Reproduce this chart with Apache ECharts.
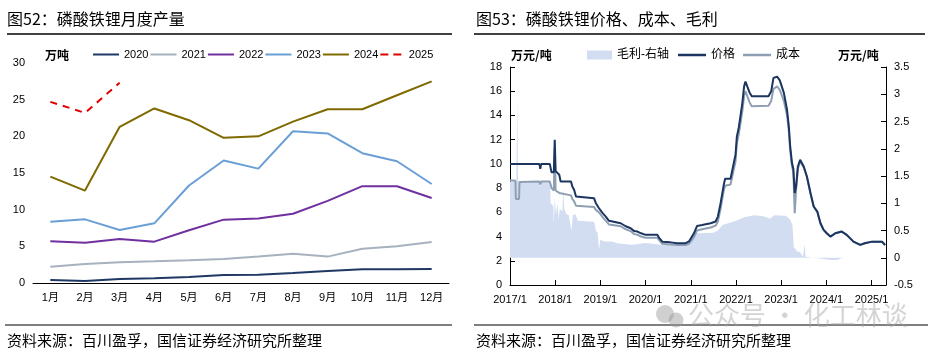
<!DOCTYPE html>
<html>
<head>
<meta charset="utf-8">
<script src="https://cdn.jsdelivr.net/npm/echarts@6/dist/echarts.min.js"></script>
<style>
  html, body { margin: 0; padding: 0; background: #fff; }
  #main { width: 934px; height: 351px; }
</style>
</head>
<body>
<div id="main"></div>
<script>
// 图52 月度产量（万吨）
var months = ['1月', '2月', '3月', '4月', '5月', '6月', '7月', '8月', '9月', '10月', '11月', '12月'];
var y2020 = [0.41, 0.27, 0.55, 0.64, 0.82, 1.09, 1.14, 1.36, 1.64, 1.86, 1.86, 1.9];
var y2021 = [2.23, 2.6, 2.82, 2.95, 3.1, 3.27, 3.6, 4.0, 3.6, 4.68, 5.0, 5.6];
var y2022 = [5.68, 5.5, 6.0, 5.64, 7.2, 8.64, 8.8, 9.45, 11.2, 13.2, 13.2, 11.6];
var y2023 = [8.36, 8.68, 7.23, 8.14, 13.3, 16.7, 15.6, 20.7, 20.4, 17.7, 16.6, 13.5];
var y2024 = [14.5, 12.6, 21.3, 23.8, 22.2, 19.8, 20.0, 22.0, 23.7, 23.7, 25.6, 27.5];
var y2025 = [24.7, 23.2, 27.3];

// 图53 价格、成本（万元/吨），时间用小数年表示
var priceYear = [
  2017.00, 2017.12, 2017.13, 2017.20, 2017.21, 2017.65, 2017.67, 2017.69, 2017.88, 2017.92,
  2017.97, 2017.99, 2018.01, 2018.05, 2018.09, 2018.12, 2018.35, 2018.38, 2018.42, 2018.46,
  2018.49, 2018.86, 2018.90, 2018.97, 2019.05, 2019.12, 2019.19, 2019.45, 2019.56, 2019.67,
  2019.75, 2019.82, 2019.90, 2020.00, 2020.26, 2020.30, 2020.37, 2020.55, 2020.70, 2020.89,
  2020.96, 2021.07, 2021.14, 2021.25, 2021.44, 2021.55, 2021.60, 2021.66, 2021.73, 2021.76,
  2021.88, 2021.92, 2021.99, 2022.02, 2022.06, 2022.14, 2022.18, 2022.21, 2022.25, 2022.30,
  2022.35, 2022.72, 2022.78, 2022.83, 2022.91, 2022.97, 2023.06, 2023.13, 2023.17, 2023.20,
  2023.24, 2023.27, 2023.30, 2023.33, 2023.37, 2023.42, 2023.50, 2023.57, 2023.65, 2023.72,
  2023.80, 2023.87, 2023.94, 2024.01, 2024.09, 2024.20, 2024.34, 2024.45, 2024.60, 2024.75,
  2024.85, 2025.01, 2025.23, 2025.30
];
var price = [
  10.0, 10.0, 10.0, 10.0, 10.0, 10.0, 9.6, 10.0, 10.0, 9.3,
  9.3, 12.0, 9.4, 9.4, 9.1, 8.55, 8.55, 8.13, 7.85, 7.3,
  7.17, 7.17, 6.75, 6.34, 5.93, 5.65, 5.3, 5.1, 4.85, 4.69,
  4.45, 4.41, 4.27, 4.14, 4.14, 3.9, 3.58, 3.52, 3.45, 3.45,
  3.6, 4.27, 4.88, 4.96, 5.1, 5.24, 5.65, 6.75, 8.27, 8.77,
  8.77, 9.5, 10.75, 12.26, 12.94, 15.0, 16.4, 16.8, 16.8, 15.9,
  15.58, 15.58, 16.0, 17.1, 17.2, 16.9, 15.86, 14.47, 13.1, 11.44,
  10.07, 9.6, 7.6, 8.13, 9.78, 10.34, 9.78, 8.96, 7.58, 6.48,
  6.06, 5.1, 4.55, 4.27, 4.0, 4.27, 4.41, 4.14, 3.58, 3.31,
  3.45, 3.58, 3.58, 3.3
];
var cost = [
  8.65, 8.6, 7.1, 7.1, 8.5, 8.55, 8.3, 8.55, 8.55, 8.0,
  7.8, 11.2, 7.8, 7.7, 7.6, 7.5, 7.4, 7.1, 6.9, 6.55,
  6.45, 6.45, 6.2, 6.0, 5.6, 5.3, 5.0, 4.85, 4.6, 4.45,
  4.2, 4.15, 4.0, 3.9, 3.9, 3.7, 3.4, 3.35, 3.3, 3.3,
  3.4, 3.95, 4.5, 4.6, 4.75, 4.9, 5.25, 6.3, 7.8, 8.2,
  8.3, 9.0, 10.2, 11.7, 12.4, 14.3, 15.6, 16.0, 16.0, 15.1,
  14.75, 14.8, 15.2, 16.2, 16.4, 16.1, 15.2, 14.0, 12.7, 11.1,
  9.8, 9.3, 5.93, 7.8, 9.6, 10.2, 9.7, 8.92, 7.55, 6.46,
  6.04, 5.08, 4.53, 4.25, 4.0, 4.28, 4.42, 4.15, 3.58, 3.31,
  3.45, 3.58, 3.58, 3.3
];

// 毛利（万元/吨，右轴）
var marginYear = [
  2017.00, 2017.14, 2017.16, 2017.18, 2017.65, 2017.67, 2017.69, 2017.89, 2017.90, 2017.96,
  2017.97, 2017.99, 2018.02, 2018.05, 2018.08, 2018.10, 2018.16, 2018.18, 2018.20, 2018.25,
  2018.30, 2018.36, 2018.39, 2018.45, 2018.50, 2018.86, 2018.90, 2018.94, 2018.97, 2019.00,
  2019.10, 2019.25, 2019.40, 2019.70, 2020.00, 2020.37, 2020.90, 2021.00, 2021.14, 2021.50,
  2021.60, 2021.70, 2021.90, 2022.00, 2022.20, 2022.40, 2022.60, 2022.75, 2022.85, 2023.10,
  2023.20, 2023.25, 2023.28, 2023.35, 2023.42, 2023.48, 2023.52, 2023.54, 2023.70, 2023.90,
  2024.10, 2024.25, 2024.35, 2025.30
];
var margin = [
  1.40, 1.40, 2.90, 1.40, 1.38, 1.30, 1.38, 1.38, 1.00, 0.95,
  0.60, 1.10, 0.80, 1.00, 0.70, 0.90, 0.85, 1.30, 0.90, 0.80,
  0.78, 0.50, 0.78, 0.80, 0.68, 0.66, 0.50, 0.45, 0.15, 0.33,
  0.30, 0.30, 0.26, 0.24, 0.27, 0.24, 0.24, 0.35, 0.45, 0.46,
  0.50, 0.60, 0.65, 0.68, 0.75, 0.78, 0.76, 0.72, 0.78, 0.77,
  0.70, 0.60, 0.20, 0.12, 0.10, 0.02, 0.25, 0.02, 0.00, -0.02,
  -0.04, -0.04, 0.00, 0.00
];

function pairs(xs, ys) {
  var out = [];
  for (var i = 0; i < xs.length; i++) out.push([xs[i], ys[i]]);
  return out;
}

var chart = echarts.init(document.getElementById('main'));
var black = '#000';
var axisCommon = {
  axisLine: { lineStyle: { color: black, width: 1 } },
  axisTick: { inside: true, length: 5, lineStyle: { color: black } },
  axisLabel: { color: black, fontSize: 11 },
  splitLine: { show: false }
};
var dashIcon = 'path://M0,0h8v2h-8z M13,0h8v2h-8z';

var option = {
  animation: false,
  textStyle: { fontFamily: "'Liberation Sans', 'Noto Sans CJK SC'" },
  grid: [
    { left: 33, right: 485, top: 63, bottom: 68 },
    { left: 510, right: 48, top: 67, bottom: 66 }
  ],
  legend: [
    {
      left: 93, top: 49, padding: 0, itemWidth: 26, itemHeight: 2, itemGap: 2,
      textStyle: { fontSize: 11, color: black },
      data: [
        { name: '2020', icon: 'rect' }, { name: '2021', icon: 'rect' }, { name: '2022', icon: 'rect' },
        { name: '2023', icon: 'rect' }, { name: '2024', icon: 'rect' }, { name: '2025', icon: dashIcon }
      ]
    },
    {
      left: 587, top: 49, padding: 0, itemWidth: 25, itemHeight: 9,
      textStyle: { fontSize: 12, color: black },
      data: [{ name: '毛利-右轴', icon: 'rect', itemStyle: { color: '#D3DDF2' } }]
    },
    {
      left: 678, top: 49, padding: 0, itemWidth: 28, itemHeight: 2.5, itemGap: 8,
      textStyle: { fontSize: 12, color: black },
      data: [{ name: '价格', icon: 'rect' }, { name: '成本', icon: 'rect' }]
    }
  ],
  xAxis: [
    echarts.util.merge({
      type: 'category', gridIndex: 0, data: months, boundaryGap: true,
      axisTick: { interval: 0 },
      axisLabel: { margin: 9 }
    }, axisCommon),
    echarts.util.merge({
      type: 'value', gridIndex: 1, min: 2017, max: 2025.32, interval: 1,
      axisLine: { onZero: false },
      axisLabel: {
        margin: 9,
        formatter: function (v) { return Number.isInteger(v) ? v + '/1' : ''; }
      }
    }, axisCommon)
  ],
  yAxis: [
    echarts.util.merge({ type: 'value', gridIndex: 0, min: 0, max: 30, interval: 5 }, axisCommon),
    echarts.util.merge({ type: 'value', gridIndex: 1, min: 0, max: 18, interval: 2 }, axisCommon),
    echarts.util.merge({
      type: 'value', gridIndex: 1, position: 'right', min: -0.5, max: 3.5, interval: 0.5,
      axisLine: { show: true, onZero: false }
    }, axisCommon)
  ],
  series: [
    { name: '2020', type: 'line', xAxisIndex: 0, yAxisIndex: 0, data: y2020, symbol: 'none', lineStyle: { color: '#1F3864', width: 2 }, itemStyle: { color: '#1F3864' } },
    { name: '2021', type: 'line', xAxisIndex: 0, yAxisIndex: 0, data: y2021, symbol: 'none', lineStyle: { color: '#A7B1BF', width: 2 }, itemStyle: { color: '#A7B1BF' } },
    { name: '2022', type: 'line', xAxisIndex: 0, yAxisIndex: 0, data: y2022, symbol: 'none', lineStyle: { color: '#7030A0', width: 2 }, itemStyle: { color: '#7030A0' } },
    { name: '2023', type: 'line', xAxisIndex: 0, yAxisIndex: 0, data: y2023, symbol: 'none', lineStyle: { color: '#6A9FD6', width: 2 }, itemStyle: { color: '#6A9FD6' } },
    { name: '2024', type: 'line', xAxisIndex: 0, yAxisIndex: 0, data: y2024, symbol: 'none', lineStyle: { color: '#7F6A00', width: 2 }, itemStyle: { color: '#7F6A00' } },
    { name: '2025', type: 'line', xAxisIndex: 0, yAxisIndex: 0, data: y2025, symbol: 'none', lineStyle: { color: '#E00000', width: 2, type: [7, 6] }, itemStyle: { color: '#E00000' } },

    { name: '毛利-右轴', type: 'line', xAxisIndex: 1, yAxisIndex: 2, data: pairs(marginYear, margin), symbol: 'none',
      lineStyle: { width: 0 }, areaStyle: { color: '#D3DDF2', opacity: 1 }, itemStyle: { color: '#D3DDF2' }, z: 1 },
    { name: '成本', type: 'line', xAxisIndex: 1, yAxisIndex: 1, data: pairs(priceYear, cost), symbol: 'none',
      lineStyle: { color: '#8E9FB4', width: 2 }, itemStyle: { color: '#8E9FB4' }, z: 2 },
    { name: '价格', type: 'line', xAxisIndex: 1, yAxisIndex: 1, data: pairs(priceYear, price), symbol: 'none',
      lineStyle: { color: '#1B3560', width: 2 }, itemStyle: { color: '#1B3560' }, z: 3 }
  ],
  graphic: [
    { type: 'text', left: 7, top: 11, style: { text: '图52：磷酸铁锂月度产量', font: "16px 'Noto Sans CJK SC'", fill: black } },
    { type: 'text', left: 476, top: 11, style: { text: '图53：磷酸铁锂价格、成本、毛利', font: "16px 'Noto Sans CJK SC'", fill: black } },
    { type: 'line', shape: { x1: 7, y1: 34, x2: 452, y2: 34 }, style: { stroke: black, lineWidth: 1.5 } },
    { type: 'line', shape: { x1: 474, y1: 34, x2: 925, y2: 34 }, style: { stroke: black, lineWidth: 1.5 } },
    { type: 'line', shape: { x1: 5, y1: 325, x2: 452, y2: 325 }, style: { stroke: black, lineWidth: 1 } },
    { type: 'line', shape: { x1: 474, y1: 325, x2: 928, y2: 325 }, style: { stroke: black, lineWidth: 1 } },
    { type: 'text', left: 45, top: 49, style: { text: '万吨', font: "bold 12px 'Noto Sans CJK SC'", fill: black } },
    { type: 'text', left: 511, top: 49, style: { text: '万元/吨', font: "bold 12px 'Noto Sans CJK SC'", fill: black } },
    { type: 'text', left: 838, top: 49, style: { text: '万元/吨', font: "bold 12px 'Noto Sans CJK SC'", fill: black } },
    { type: 'text', left: 7, top: 333, style: { text: '资料来源：百川盈孚，国信证券经济研究所整理', font: "15px 'Noto Sans CJK SC'", fill: black } },
    { type: 'text', left: 476, top: 333, style: { text: '资料来源：百川盈孚，国信证券经济研究所整理', font: "15px 'Noto Sans CJK SC'", fill: black } },
    // 水印
    { type: 'circle', shape: { cx: 665, cy: 314, r: 9 }, style: { fill: 'rgba(150,150,150,0.45)' }, z: 100 },
    { type: 'circle', shape: { cx: 676, cy: 320, r: 7.5 }, style: { fill: 'rgba(150,150,150,0.45)' }, z: 100 },
    { type: 'text', left: 688, top: 302, style: { text: '公众号 · 化工林谈', font: "26px 'Noto Sans CJK SC'", fill: 'rgba(160,160,160,0.45)' }, z: 100 }
  ]
};

chart.setOption(option);
</script>
</body>
</html>
